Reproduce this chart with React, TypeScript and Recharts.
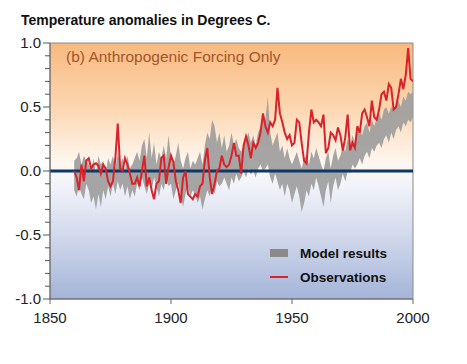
import React from "react";
import {
  ComposedChart,
  Area,
  Line,
  XAxis,
  YAxis,
  ReferenceLine,
  ReferenceArea,
} from "recharts";

const START_YEAR = 1860;

const observations = [
  0.0, -0.05, -0.15, 0.05, -0.08, 0.08, 0.1, 0.02, 0.05, 0.06, // 1860s
  0.04, -0.02, 0.05, 0.02, -0.08, -0.12, -0.08, 0.1, 0.37, 0.02, // 1870s
  0.0, 0.1, 0.05, -0.02, -0.1, -0.1, -0.05, -0.12, 0.0, 0.12, // 1880s
  -0.12, -0.05, -0.15, -0.22, -0.1, -0.08, 0.1, 0.12, -0.1, 0.03, // 1890s
  0.12, 0.07, -0.08, -0.15, -0.25, -0.05, 0.0, -0.18, -0.2, -0.22, // 1900s
  -0.18, -0.2, -0.12, -0.1, 0.08, 0.18, -0.05, -0.18, -0.1, 0.0, // 1910s
  0.02, 0.12, 0.05, 0.03, 0.05, 0.12, 0.22, 0.12, 0.12, -0.02, // 1920s
  0.2, 0.27, 0.2, 0.1, 0.22, 0.18, 0.22, 0.3, 0.45, 0.35, // 1930s
  0.3, 0.38, 0.35, 0.4, 0.65, 0.45, 0.38, 0.3, 0.25, 0.28, // 1940s
  0.2, 0.22, 0.4, 0.38, 0.22, 0.08, 0.06, 0.3, 0.48, 0.38, // 1950s
  0.4, 0.38, 0.35, 0.44, 0.14, 0.18, 0.3, 0.28, 0.24, 0.34, // 1960s
  0.28, 0.16, 0.26, 0.44, 0.16, 0.22, 0.18, 0.35, 0.3, 0.45, // 1970s
  0.48, 0.42, 0.35, 0.55, 0.42, 0.4, 0.48, 0.6, 0.62, 0.55, // 1980s
  0.68, 0.65, 0.48, 0.5, 0.6, 0.72, 0.64, 0.75, 0.96, 0.72, // 1990s
  0.7, // 2000
];

const modelLow = [
  -0.15, -0.2, -0.12, -0.18, -0.22, -0.1, -0.15, -0.25, -0.2, -0.3,
  -0.18, -0.28, -0.15, -0.22, -0.12, -0.2, -0.1, -0.18, -0.08, -0.15,
  -0.1, -0.2, -0.12, -0.22, -0.15, -0.2, -0.1, -0.15, -0.05, -0.12,
  -0.18, -0.1, -0.15, -0.05, -0.12, -0.2, -0.1, -0.15, -0.05, -0.12,
  -0.1, -0.22, -0.15, -0.1, -0.2, -0.28, -0.18, -0.12, -0.2, -0.15,
  -0.18, -0.25, -0.2, -0.3, -0.22, -0.15, -0.2, -0.12, -0.18, -0.08,
  -0.12, -0.1, -0.05, -0.1, -0.15, -0.05, -0.1, -0.02, -0.08, -0.05,
  0.0, -0.05, 0.02, -0.03, 0.0, -0.05, 0.02, 0.05, 0.0, 0.02,
  0.05, -0.05, -0.1, -0.02, -0.08, -0.15, -0.1, -0.2, -0.1, -0.15,
  -0.25, -0.18, -0.12, -0.2, -0.32, -0.25, -0.15, -0.2, -0.1, -0.15,
  -0.05, -0.12, -0.2, -0.28, -0.15, -0.08, -0.25, -0.12, -0.05, -0.15,
  -0.1, -0.02, -0.08, 0.0, -0.02, 0.05, 0.02, 0.05, 0.1, 0.05,
  0.12, 0.15, 0.1, 0.18, 0.15, 0.2, 0.22, 0.18, 0.25, 0.28,
  0.22, 0.3, 0.25, 0.32, 0.35, 0.3, 0.38, 0.35, 0.4, 0.38,
  0.42,
];

const modelHigh = [
  0.08, 0.1, 0.15, 0.05, 0.12, 0.08, 0.05, 0.0, 0.1, -0.02,
  0.12, 0.05, 0.08, -0.02, 0.1, 0.05, 0.12, 0.02, 0.14, 0.05,
  0.1, 0.0, 0.12, 0.02, 0.05, 0.1, 0.15, 0.08, 0.2, 0.25,
  0.1, 0.3, 0.1, 0.22, 0.05, 0.15, 0.1, 0.2, 0.1, 0.28,
  0.1, 0.05, 0.12, 0.22, 0.08, 0.02, 0.1, 0.15, 0.02, 0.08,
  0.05, 0.1, 0.15, 0.05, 0.2, 0.3, 0.25, 0.4, 0.35, 0.22,
  0.3, 0.18, 0.28, 0.15, 0.2, 0.3, 0.2, 0.25, 0.18, 0.15,
  0.2, 0.25, 0.3, 0.22, 0.28, 0.2, 0.3, 0.35, 0.45, 0.4,
  0.58, 0.3, 0.2, 0.25, 0.3, 0.15, 0.2, 0.1, 0.18, 0.1,
  0.05, 0.1, 0.15, 0.08, 0.02, 0.1, 0.12, 0.05, 0.15, 0.1,
  0.18, 0.12, 0.05, 0.0, 0.1, 0.15, 0.02, 0.12, 0.18, 0.08,
  0.12, 0.2, 0.15, 0.25, 0.2, 0.28, 0.22, 0.3, 0.32, 0.28,
  0.35, 0.38, 0.3, 0.4, 0.35, 0.42, 0.45, 0.4, 0.48, 0.5,
  0.45, 0.5, 0.48, 0.52, 0.55, 0.5, 0.58, 0.55, 0.62, 0.6,
  0.62,
];

const xTicks = [1850, 1900, 1950, 2000];
const yTicks = [
  -1.0, -0.9, -0.8, -0.7, -0.6, -0.5, -0.4, -0.3, -0.2, -0.1, 0.0,
  0.1, 0.2, 0.3, 0.4, 0.5, 0.6, 0.7, 0.8, 0.9, 1.0,
];
const yMajor = [-1.0, -0.5, 0.0, 0.5, 1.0];

const data = observations.map((obs, i) => ({
  year: START_YEAR + i,
  obs,
  model: [modelLow[i], modelHigh[i]],
}));

const FONT = "'Liberation Sans', Arial, Helvetica, sans-serif";

const YTick = (props: any) => {
  const { x, y, payload } = props;
  const v = payload.value;
  const major = yMajor.some((m) => Math.abs(m - v) < 1e-6);
  return (
    <g>
      <line x1={x - (major ? 7 : 5)} x2={x} y1={y} y2={y} stroke="#555" strokeWidth={1} />
      {major && (
        <text x={x - 9} y={y} dy="0.35em" textAnchor="end" fontSize={15} fill="#222" fontFamily={FONT}>
          {v.toFixed(1)}
        </text>
      )}
    </g>
  );
};

export default function App() {
  return (
    <div style={{ position: "absolute", left: 0, top: 0, width: 467, height: 364, background: "#fff" }}>
      <div
        style={{
          position: "absolute",
          left: 21,
          top: 12,
          fontFamily: FONT,
          fontWeight: "bold",
          fontSize: 14,
          color: "#111",
          whiteSpace: "nowrap",
        }}
      >
        Temperature anomalies in Degrees C.
      </div>
      <ComposedChart
        width={467}
        height={364}
        data={data}
        margin={{ top: 43, right: 54, bottom: 35, left: 0 }}
      >
        <defs>
          <linearGradient id="bgGrad" x1="0" y1="0" x2="0" y2="1">
            <stop offset="0%" stopColor="#f9b97e" />
            <stop offset="25%" stopColor="#fcd6b0" />
            <stop offset="47%" stopColor="#fef7f0" />
            <stop offset="55%" stopColor="#f3f4fa" />
            <stop offset="75%" stopColor="#d2d9ec" />
            <stop offset="100%" stopColor="#a4b4d8" />
          </linearGradient>
        </defs>
        <XAxis
          dataKey="year"
          type="number"
          domain={[1850, 2000]}
          ticks={xTicks}
          allowDataOverflow
          height={30}
          tickSize={5}
          tickMargin={8}
          stroke="#666"
          tick={{ fontSize: 15, fill: "#222", fontFamily: FONT }}
        />
        <YAxis
          type="number"
          domain={[-1, 1]}
          ticks={yTicks}
          interval={0}
          width={50}
          tickSize={0}
          tickMargin={0}
          tickLine={false}
          stroke="#666"
          tick={<YTick />}
          allowDataOverflow
        />
        <ReferenceArea
          x1={1850}
          x2={2000}
          y1={-1}
          y2={1}
          fill="url(#bgGrad)"
          fillOpacity={1}
          stroke="#8a8a8a"
          strokeWidth={1}
          ifOverflow="visible"
        />
        <Area
          dataKey="model"
          type="linear"
          stroke="none"
          fill="#9c9c9c"
          fillOpacity={0.9}
          isAnimationActive={false}
        />
        <ReferenceLine y={0} stroke="#0d3966" strokeWidth={3} />
        <Line
          dataKey="obs"
          type="linear"
          stroke="#d8232a"
          strokeWidth={2}
          dot={false}
          isAnimationActive={false}
        />
      </ComposedChart>
      <div
        style={{
          position: "absolute",
          left: 66,
          top: 48,
          fontFamily: FONT,
          fontSize: 15.5,
          color: "#a4552a",
          whiteSpace: "nowrap",
        }}
      >
        (b) Anthropogenic Forcing Only
      </div>
      <div
        style={{
          position: "absolute",
          left: 270,
          top: 241,
          fontFamily: FONT,
          fontWeight: "bold",
          fontSize: 13.5,
          color: "#111",
          whiteSpace: "nowrap",
        }}
      >
        <div style={{ display: "flex", alignItems: "center", height: 24 }}>
          <span style={{ display: "inline-block", width: 18, height: 8, background: "#8a8a8a", marginRight: 12 }} />
          <span>Model results</span>
        </div>
        <div style={{ display: "flex", alignItems: "center", height: 24 }}>
          <span style={{ display: "inline-block", width: 18, height: 2, background: "#d8232a", marginRight: 12 }} />
          <span>Observations</span>
        </div>
      </div>
    </div>
  );
}
